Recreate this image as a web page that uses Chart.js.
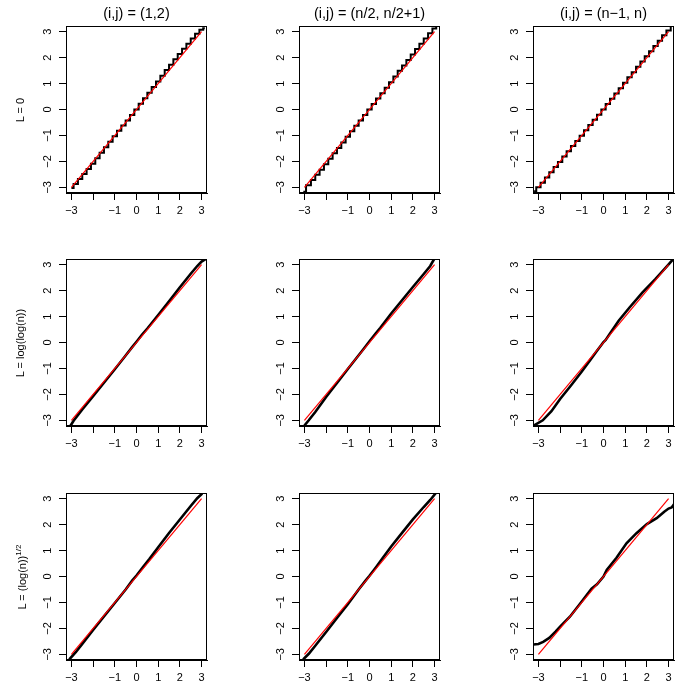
<!DOCTYPE html>
<html>
<head>
<meta charset="utf-8">
<script src="https://cdn.jsdelivr.net/npm/chart.js@4.4.1/dist/chart.umd.min.js"></script>
<style>
  body { margin: 0; background: #fff; }
  #page { position: relative; width: 700px; height: 700px; font-family: "Liberation Sans", Arial, sans-serif; color: #000; }
  .cell { position: absolute; }
  .title { position: absolute; font-size: 14.5px; line-height: 15px; transform: translateX(-50%); white-space: nowrap; }
  .rowlab { position: absolute; font-size: 11px; line-height: 11px; white-space: nowrap; transform: translate(-50%, -50%) rotate(-90deg); }
  .rowlab sup { font-size: 8px; vertical-align: 5px; }
</style>
</head>
<body>
<div id="page"></div>
<script>
// column / row headings
const colTitles = ["(i,j) = (1,2)", "(i,j) = (n/2, n/2+1)", "(i,j) = (n\u22121, n)"];
const rowLabels = ["L = 0", "L = log(log(n))", "L = (log(n))<sup>1/2</sup>"];

// tick positions and labels
const xTickValues = [-3, -2, -1, 0, 1, 2, 3];
const xTickLabels = ["\u22123", "", "\u22121", "0", "1", "2", "3"];
const yTickValues = [-3, -2, -1, 0, 1, 2, 3];
const yTickLabels = ["\u22123", "\u22122", "\u22121", "0", "1", "2", "3"];

// reference line y = x
const refX = [-3, 3];
const refY = [-3, 3];

// row 1: L = 0
const q11x = [-3.0,-2.8,-2.6,-2.4,-2.2,-2.0,-1.8,-1.6,-1.4,-1.2,-1.0,-0.8,-0.6,-0.4,-0.2,0,0.2,0.4,0.6,0.8,1.0,1.2,1.4,1.6,1.8,2.0,2.2,2.4,2.6,2.8,3.0,3.15];
const q11y = [-3.03,-2.87,-2.68,-2.49,-2.29,-2.09,-1.88,-1.67,-1.46,-1.24,-1.03,-0.82,-0.62,-0.42,-0.21,0.0,0.22,0.43,0.65,0.87,1.08,1.30,1.52,1.73,1.94,2.14,2.34,2.54,2.74,2.92,3.08,3.13];
const q12x = [-3.05,-2.8,-2.6,-2.4,-2.2,-2.0,-1.8,-1.6,-1.4,-1.2,-1.0,-0.8,-0.6,-0.4,-0.2,0,0.2,0.4,0.6,0.8,1.0,1.2,1.4,1.6,1.8,2.0,2.2,2.4,2.6,2.8,3.0,3.15];
const q12y = [-3.17,-2.92,-2.72,-2.52,-2.32,-2.11,-1.90,-1.69,-1.48,-1.27,-1.05,-0.84,-0.63,-0.42,-0.21,0.0,0.21,0.42,0.63,0.84,1.05,1.27,1.49,1.70,1.91,2.12,2.33,2.54,2.74,2.94,3.12,3.22];
const q13x = [-3.2,-3.0,-2.8,-2.6,-2.4,-2.2,-2.0,-1.8,-1.6,-1.4,-1.2,-1.0,-0.8,-0.6,-0.4,-0.2,0,0.2,0.4,0.6,0.8,1.0,1.2,1.4,1.6,1.8,2.0,2.2,2.4,2.6,2.8,3.0,3.2];
const q13y = [-3.15,-3.0,-2.82,-2.62,-2.42,-2.22,-2.02,-1.81,-1.61,-1.41,-1.21,-1.01,-0.80,-0.60,-0.40,-0.20,0.0,0.21,0.41,0.62,0.82,1.03,1.24,1.44,1.65,1.85,2.05,2.25,2.45,2.65,2.86,3.05,3.22];

// row 2: L = log(log(n))
const q21x = [-3.05,-2.9,-2.5,-2.0,-1.5,-1.0,-0.5,-0.2,0,0.25,0.5,1.0,1.5,2.0,2.5,2.8,3.0,3.2];
const q21y = [-3.22,-3.02,-2.58,-2.07,-1.55,-1.03,-0.50,-0.18,0.03,0.30,0.54,1.06,1.59,2.13,2.65,2.95,3.12,3.22];
const q22x = [-3.0,-2.8,-2.5,-2.0,-1.5,-1.0,-0.6,-0.3,0,0.3,0.5,1.0,1.5,2.0,2.5,2.8,2.98];
const q22y = [-3.2,-3.0,-2.68,-2.1,-1.56,-1.02,-0.6,-0.28,0.05,0.36,0.57,1.12,1.63,2.14,2.64,2.95,3.22];
const q23x = [-3.25,-2.8,-2.4,-2.0,-1.5,-1.0,-0.6,-0.3,-0.1,0.0,0.1,0.3,0.7,1.2,1.8,2.4,2.9,3.22];
const q23y = [-3.22,-3.0,-2.65,-2.18,-1.66,-1.12,-0.66,-0.32,-0.1,0.02,0.1,0.35,0.84,1.35,1.93,2.45,2.92,3.22];

// row 3: L = (log(n))^(1/2)
const q31x = [-3.1,-2.8,-2.5,-2.0,-1.5,-1.0,-0.5,-0.2,0,0.3,0.6,1.0,1.5,2.0,2.5,2.8,3.03];
const q31y = [-3.2,-2.92,-2.6,-2.06,-1.54,-1.02,-0.5,-0.16,0.04,0.36,0.68,1.13,1.68,2.2,2.72,3.02,3.2];
const q32x = [-3.06,-2.8,-2.5,-2.0,-1.5,-1.0,-0.5,-0.2,0,0.3,0.6,1.0,1.5,2.0,2.5,2.8,3.06];
const q32y = [-3.2,-2.98,-2.67,-2.14,-1.6,-1.07,-0.5,-0.18,0.03,0.36,0.7,1.16,1.68,2.2,2.68,2.95,3.22];
const q33x = [-3.23,-3.0,-2.78,-2.5,-2.2,-2.0,-1.55,-1.1,-0.55,-0.3,0,0.15,0.6,1.06,1.52,2.0,2.45,2.8,3.0,3.14,3.25];
const q33y = [-2.62,-2.6,-2.52,-2.37,-2.12,-1.93,-1.55,-1.07,-0.47,-0.3,0.0,0.25,0.72,1.28,1.67,2.02,2.25,2.5,2.62,2.66,2.79];

const panels = [
  [q11x, q11y, true], [q12x, q12y, true], [q13x, q13y, true],
  [q21x, q21y, false], [q22x, q22y, false], [q23x, q23y, false],
  [q31x, q31y, false], [q32x, q32y, false], [q33x, q33y, false]
];

const fontFamily = '"Liberation Sans", Arial, sans-serif';
const cellSize = 233.33;
const page = document.getElementById("page");

const boxPlugin = {
  id: "box",
  afterDraw(chart) {
    const { ctx, chartArea: a } = chart;
    ctx.save();
    ctx.strokeStyle = "#000";
    ctx.lineWidth = 1;
    ctx.strokeRect(Math.round(a.left) + 0.5, Math.round(a.top) + 0.5, Math.round(a.width) - 1, Math.round(a.height) - 1);
    ctx.restore();
  }
};

const zip = (xs, ys) => xs.map((x, i) => ({ x: x, y: ys[i] }));

const makePanel = (idx) => {
  const row = Math.floor(idx / 3);
  const col = idx % 3;
  const [xs, ys, stepped] = panels[idx];

  const canvas = document.createElement("canvas");
  canvas.width = 233;
  canvas.height = 233;
  canvas.className = "cell";
  canvas.style.left = Math.round(col * cellSize) + "px";
  canvas.style.top = Math.round(row * cellSize) + "px";
  page.appendChild(canvas);

  new Chart(canvas, {
    type: "line",
    data: {
      datasets: [
        { data: zip(refX, refY), borderColor: "#ff0000", borderWidth: 1.2, pointRadius: 0, order: 0 },
        { data: zip(xs, ys), borderColor: "#000", borderWidth: stepped ? 2 : 2.6, pointRadius: 0, stepped: stepped ? "middle" : false, order: 1 }
      ]
    },
    options: {
      responsive: false,
      animation: false,
      events: [],
      layout: { padding: { top: 26, right: 26, left: 0, bottom: 0 } },
      plugins: { legend: { display: false }, tooltip: { enabled: false } },
      scales: {
        x: {
          type: "linear",
          min: -3.25,
          max: 3.25,
          afterFit: (s) => { s.height = 40; },
          ticks: {
            stepSize: 1, includeBounds: false, autoSkip: false, maxRotation: 0,
            padding: 4, color: "#000", font: { size: 11, family: fontFamily },
            callback: (v) => { const i = xTickValues.indexOf(v); return i < 0 ? null : xTickLabels[i]; }
          },
          grid: { drawOnChartArea: false, tickLength: 7, color: "#000", tickColor: "#000" },
          border: { color: "#000", width: 1 }
        },
        y: {
          type: "linear",
          min: -3.22,
          max: 3.22,
          afterFit: (s) => { s.width = 66; },
          ticks: {
            stepSize: 1, includeBounds: false, minRotation: 90, maxRotation: 90, crossAlign: "center",
            padding: 5, color: "#000", font: { size: 11, family: fontFamily },
            callback: (v) => { const i = yTickValues.indexOf(v); return i < 0 ? null : yTickLabels[i]; }
          },
          grid: { drawOnChartArea: false, tickLength: 7, color: "#000", tickColor: "#000" },
          border: { color: "#000", width: 1 }
        }
      }
    },
    plugins: [boxPlugin]
  });
};

for (let i = 0; i < 9; i++) makePanel(i);

colTitles.forEach((t, c) => {
  const d = document.createElement("div");
  d.className = "title";
  d.textContent = t;
  d.style.left = (Math.round(c * cellSize) + 136.5) + "px";
  d.style.top = "6px";
  page.appendChild(d);
});

rowLabels.forEach((t, r) => {
  const d = document.createElement("div");
  d.className = "rowlab";
  d.innerHTML = t;
  d.style.left = "20px";
  d.style.top = (Math.round(r * cellSize) + 109.5) + "px";
  page.appendChild(d);
});
</script>
</body>
</html>
